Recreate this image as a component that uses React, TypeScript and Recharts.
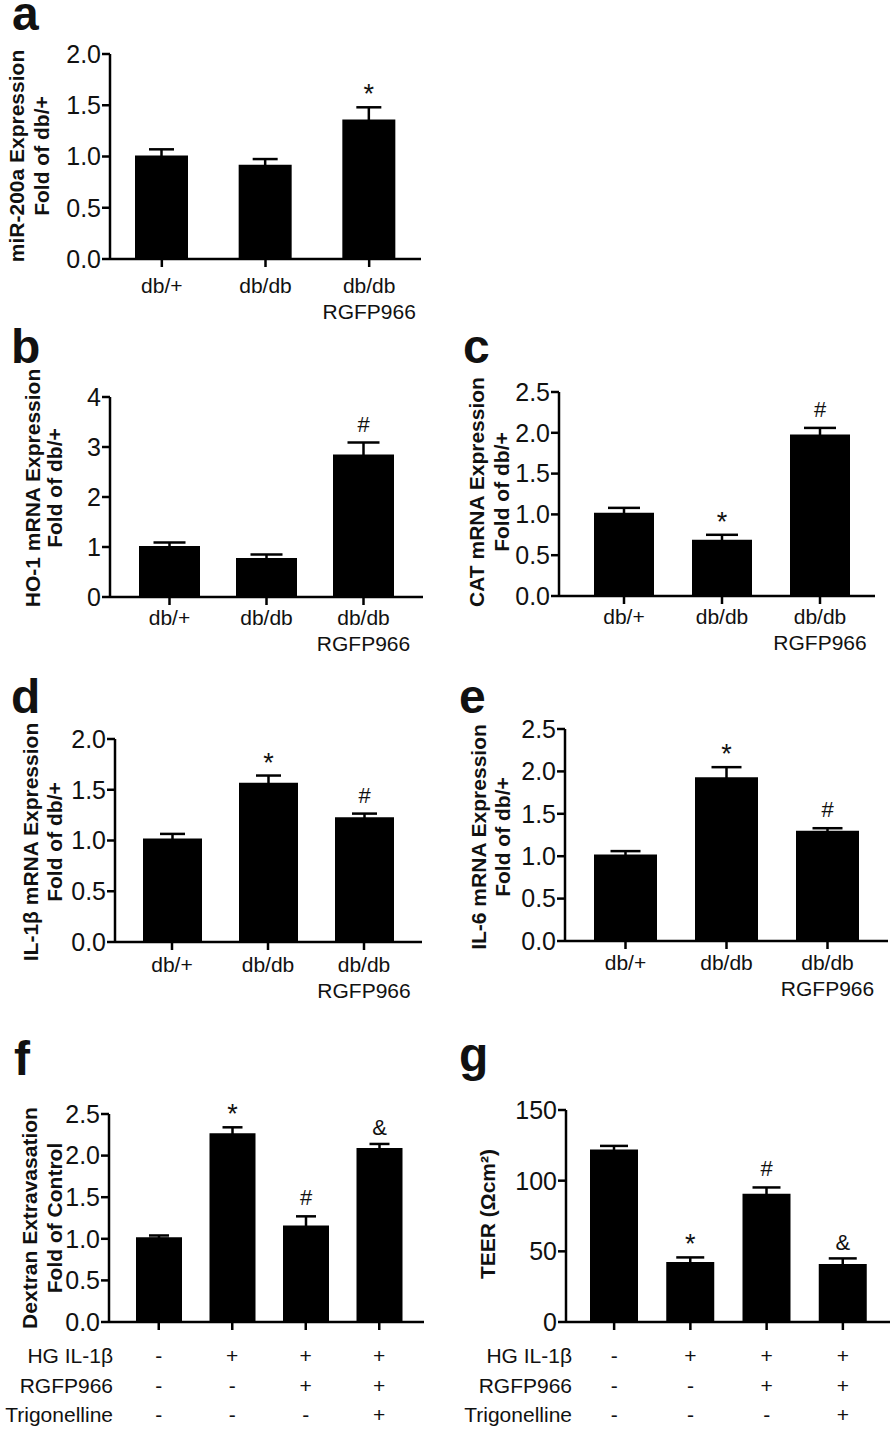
import React from "react";
import { BarChart, Bar, XAxis, YAxis, ErrorBar, LabelList } from "recharts";

const FONT = '"Liberation Sans", Arial, Helvetica, sans-serif';
const INK = "#000";
const TEXT = "#111";

// categories
const DB_GROUPS = ["db/+", "db/db", "db/db\nRGFP966"];
const TREAT_GROUPS = ["control", "hg", "hg+rgfp", "hg+rgfp+trig"];
const TREAT_ROWS = ["HG IL-1β", "RGFP966", "Trigonelline"];
const HG_IL1B = ["-", "+", "+", "+"];
const RGFP966 = ["-", "-", "+", "+"];
const TRIGONELLINE = ["-", "-", "-", "+"];

// a: miR-200a
const MIR200A = [1.01, 0.92, 1.36];
const MIR200A_ERR = [0.06, 0.055, 0.12];
const MIR200A_SIG = ["", "", "*"];
// b: HO-1
const HO1 = [1.02, 0.78, 2.85];
const HO1_ERR = [0.07, 0.07, 0.24];
const HO1_SIG = ["", "", "#"];
// c: CAT
const CAT = [1.02, 0.69, 1.98];
const CAT_ERR = [0.06, 0.06, 0.08];
const CAT_SIG = ["", "*", "#"];
// d: IL-1b
const IL1B = [1.02, 1.57, 1.23];
const IL1B_ERR = [0.045, 0.07, 0.035];
const IL1B_SIG = ["", "*", "#"];
// e: IL-6
const IL6 = [1.02, 1.93, 1.3];
const IL6_ERR = [0.04, 0.12, 0.03];
const IL6_SIG = ["", "*", "#"];
// f: dextran
const DEXTRAN = [1.02, 2.27, 1.16, 2.09];
const DEXTRAN_ERR = [0.02, 0.07, 0.11, 0.05];
const DEXTRAN_SIG = ["", "*", "#", "&"];
// g: TEER
const TEER = [122, 42.5, 90.7, 41];
const TEER_ERR = [2.6, 3.2, 4.5, 4.0];
const TEER_SIG = ["", "*", "#", "&"];

const TICKS_2 = [0, 0.5, 1, 1.5, 2];
const TICKS_25 = [0, 0.5, 1, 1.5, 2, 2.5];
const TICKS_4 = [0, 1, 2, 3, 4];
const TICKS_150 = [0, 50, 100, 150];

const ROW_VALUES = [HG_IL1B, RGFP966, TRIGONELLINE];

const oneDec = (v: number) => v.toFixed(1);
const int = (v: number) => String(v);

const panels = [
  { id: "a", groups: DB_GROUPS, values: MIR200A, errs: MIR200A_ERR, sigs: MIR200A_SIG, ticks: TICKS_2, fmt: oneDec,
    axisX: 110, yTop: 54, yBottom: 259, xEnd: 421, padL: 0, padR: 0, barSize: 53, cap: 12.5, tickDy: 34,
    letter: [12, 30], label: ["miR-200a Expression", "Fold of db/+"], labelX: [16, 41], labelY: 156 },
  { id: "b", groups: DB_GROUPS, values: HO1, errs: HO1_ERR, sigs: HO1_SIG, ticks: TICKS_4, fmt: int,
    axisX: 110, yTop: 397, yBottom: 597, xEnd: 423, padL: 11, padR: 11, barSize: 61, cap: 16, tickDy: 28,
    letter: [11, 363], label: ["HO-1 mRNA Expression", "Fold of db/+"], labelX: [32, 54], labelY: 488 },
  { id: "c", groups: DB_GROUPS, values: CAT, errs: CAT_ERR, sigs: CAT_SIG, ticks: TICKS_25, fmt: oneDec,
    axisX: 559, yTop: 392, yBottom: 596, xEnd: 875, padL: 16, padR: 6, barSize: 60, cap: 16, tickDy: 28,
    letter: [463, 363], label: ["CAT mRNA Expression", "Fold of db/+"], labelX: [476, 501], labelY: 492 },
  { id: "d", groups: DB_GROUPS, values: IL1B, errs: IL1B_ERR, sigs: IL1B_SIG, ticks: TICKS_2, fmt: oneDec,
    axisX: 115, yTop: 739, yBottom: 942, xEnd: 422, padL: 9, padR: 10, barSize: 59, cap: 12.5, tickDy: 30,
    letter: [11, 713], label: ["IL-1β mRNA Expression", "Fold of db/+"], labelX: [30, 54], labelY: 842 },
  { id: "e", groups: DB_GROUPS, values: IL6, errs: IL6_ERR, sigs: IL6_SIG, ticks: TICKS_25, fmt: oneDec,
    axisX: 565, yTop: 729, yBottom: 941, xEnd: 888, padL: 10, padR: 10, barSize: 63, cap: 15, tickDy: 29,
    letter: [459, 713], label: ["IL-6 mRNA Expression", "Fold of db/+"], labelX: [478, 502], labelY: 837 },
  { id: "f", groups: TREAT_GROUPS, values: DEXTRAN, errs: DEXTRAN_ERR, sigs: DEXTRAN_SIG, ticks: TICKS_25, fmt: oneDec,
    axisX: 109, yTop: 1114, yBottom: 1322, xEnd: 424, padL: 13, padR: 8, barSize: 46, cap: 10, tickDy: 41, rows: true,
    rowRight: 113, letter: [14, 1075], label: ["Dextran Extravasation", "Fold of Control"], labelX: [29, 54], labelY: 1218 },
  { id: "g", groups: TREAT_GROUPS, values: TEER, errs: TEER_ERR, sigs: TEER_SIG, ticks: TICKS_150, fmt: int,
    axisX: 566, yTop: 1110, yBottom: 1322, xEnd: 890, padL: 10, padR: 9, barSize: 48, cap: 14, tickDy: 41, rows: true,
    rowRight: 572, letter: [459, 1071], label: ["TEER (Ωcm²)"], labelX: [487], labelY: 1214 },
];

const ROW_STEP = [0, 30, 59];
const TICK_SIZE = 8;

function Panel({ cfg }: { cfg: any }) {
  const YW = 70;
  const MT = 20;
  const MR = 4;
  const xh = cfg.rows ? 112 : 72;
  const left = cfg.axisX - YW;
  const top = cfg.yTop - MT;
  const width = cfg.xEnd - left + MR;
  const height = MT + (cfg.yBottom - cfg.yTop) + xh;
  const max = cfg.ticks[cfg.ticks.length - 1];
  const data = cfg.groups.map((g: string, i: number) => ({
    name: g,
    value: cfg.values[i],
    err: cfg.errs[i],
    sig: cfg.sigs[i],
  }));

  const catTick = (p: any) => {
    const axisY = p.y - TICK_SIZE;
    if (cfg.rows) {
      const idx = p.index ?? cfg.groups.indexOf(p.payload.value);
      return (
        <g>
          {ROW_VALUES.map((row, r) => (
            <text key={r} x={p.x} y={axisY + cfg.tickDy + ROW_STEP[r]} textAnchor="middle"
              fontSize={21} fontFamily={FONT} fill={TEXT}>{row[idx]}</text>
          ))}
        </g>
      );
    }
    const lines = String(p.payload.value).split("\n");
    return (
      <text x={p.x} y={axisY + cfg.tickDy} textAnchor="middle" fontSize={21} fontFamily={FONT} fill={TEXT}>
        {lines.map((l, i) => (
          <tspan key={i} x={p.x} dy={i === 0 ? 0 : 25.5}>{l}</tspan>
        ))}
      </text>
    );
  };

  const sigMark = (p: any) => {
    const value = p.value;
    if (!value) return null;
    const vb = p.viewBox ?? p;
    const x = vb.x ?? p.x;
    const y = vb.y ?? p.y;
    const w = vb.width ?? p.width;
    const h = Math.abs(vb.height ?? p.height);
    const d = data.find((r: any) => r.sig === value);
    const errTop = y - d.err * (h / d.value);
    const star = value === "*";
    const shift = star ? 4 : value === "#" ? 11 : 8.5;
    return (
      <text x={x + w / 2} y={errTop - shift} textAnchor="middle" fontSize={star ? 27 : 22}
        fontFamily={FONT} fill={TEXT}>
        {value}
      </text>
    );
  };

  return (
    <div style={{ position: "absolute", left, top, width, height }}>
      <BarChart width={width} height={height} data={data} barSize={cfg.barSize}
        margin={{ top: MT, right: MR, bottom: 0, left: 0 }} style={{ overflow: "visible" }}>
        <XAxis dataKey="name" height={xh} interval={0} padding={{ left: cfg.padL, right: cfg.padR }}
          axisLine={{ stroke: INK, strokeWidth: 2.5 }} tickLine={{ stroke: INK, strokeWidth: 2.5 }}
          tickSize={TICK_SIZE} tickMargin={0} tick={catTick} />
        <YAxis type="number" domain={[0, max]} ticks={cfg.ticks} interval={0} width={YW}
          tickFormatter={cfg.fmt} allowDataOverflow
          axisLine={{ stroke: INK, strokeWidth: 2.5 }} tickLine={{ stroke: INK, strokeWidth: 2.5 }}
          tickSize={TICK_SIZE} tickMargin={1}
          tick={{ fontSize: 25, fill: TEXT, fontFamily: FONT }} />
        <Bar dataKey="value" fill={INK} isAnimationActive={false}>
          <ErrorBar dataKey="err" direction="y" width={cfg.cap} stroke={INK} strokeWidth={2.5} />
          <LabelList dataKey="sig" content={sigMark} />
        </Bar>
      </BarChart>
    </div>
  );
}

export default function App() {
  return (
    <div style={{ position: "absolute", left: 0, top: 0, width: 896, height: 1432, background: "#fff", overflow: "hidden" }}>
      {panels.map((cfg) => (
        <Panel key={cfg.id} cfg={cfg} />
      ))}
      <svg width={896} height={1432} style={{ position: "absolute", left: 0, top: 0, pointerEvents: "none" }}>
        {panels.map((cfg: any) => (
          <g key={cfg.id} fontFamily={FONT} fill={TEXT}>
            <text x={cfg.letter[0]} y={cfg.letter[1]} fontSize={48} fontWeight="bold">{cfg.id}</text>
            {cfg.label.map((line: string, i: number) => (
              <text key={i} transform={`translate(${cfg.labelX[i]}, ${cfg.labelY}) rotate(-90)`}
                textAnchor="middle" dominantBaseline="central" fontSize={21} fontWeight="bold">{line}</text>
            ))}
            {cfg.rows &&
              TREAT_ROWS.map((name, r) => (
                <text key={name} x={cfg.rowRight} y={cfg.yBottom + cfg.tickDy + ROW_STEP[r]} textAnchor="end" fontSize={21}>
                  {name}
                </text>
              ))}
          </g>
        ))}
      </svg>
    </div>
  );
}
